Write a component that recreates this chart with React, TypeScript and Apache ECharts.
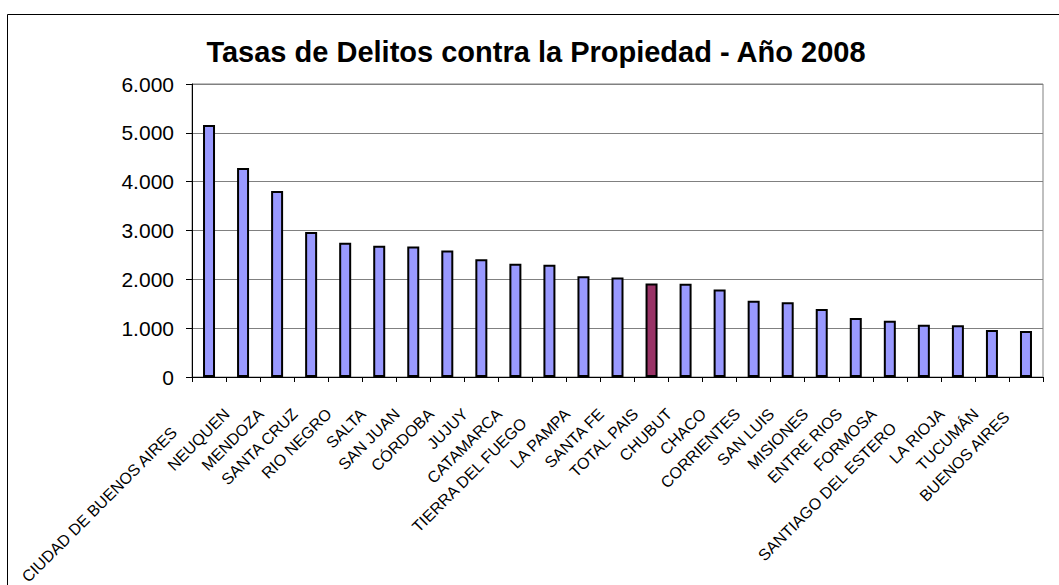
import React, { useEffect, useRef } from "react";
import * as echarts from "echarts";

const TITLE = "Tasas de Delitos contra la Propiedad - Año 2008";

const provinces: string[] = [
  "CIUDAD DE BUENOS AIRES",
  "NEUQUEN",
  "MENDOZA",
  "SANTA CRUZ",
  "RIO NEGRO",
  "SALTA",
  "SAN JUAN",
  "CÓRDOBA",
  "JUJUY",
  "CATAMARCA",
  "TIERRA DEL FUEGO",
  "LA PAMPA",
  "SANTA FE",
  "TOTAL PAIS",
  "CHUBUT",
  "CHACO",
  "CORRIENTES",
  "SAN LUIS",
  "MISIONES",
  "ENTRE RIOS",
  "FORMOSA",
  "SANTIAGO DEL ESTERO",
  "LA RIOJA",
  "TUCUMÁN",
  "BUENOS AIRES",
];

const rates: number[] = [
  5160, 4280, 3810, 2970, 2750, 2690, 2670, 2590, 2410, 2320, 2300, 2065,
  2040, 1915, 1910, 1790, 1560, 1530, 1390, 1210, 1150, 1070, 1060, 960, 940,
];

const highlight = "TOTAL PAIS";

const yTicks = { min: 0, max: 6000, interval: 1000 };

function fmt(v: number): string {
  return String(Math.round(v)).replace(/\B(?=(\d{3})+(?!\d))/g, ".");
}

export default function App() {
  const ref = useRef<HTMLDivElement>(null);

  useEffect(() => {
    if (!ref.current) return;
    const chart = echarts.init(ref.current, null, { renderer: "svg" });
    const font = "Arial, 'Liberation Sans', sans-serif";

    const catData = provinces.map((name) => {
      const extra = Math.max(0, name.length - 10) * 2.2;
      return {
        value: name,
        textStyle: { padding: [0, 23 + extra, 0, 0] },
      };
    });

    chart.setOption({
      animation: false,
      backgroundColor: "#ffffff",
      graphic: [
        {
          type: "rect",
          shape: { x: 7.5, y: 14.5, width: 1100, height: 620 },
          style: { fill: "none", stroke: "#000000", lineWidth: 1 },
          silent: true,
          z: -10,
        },
        {
          type: "text",
          x: 536,
          y: 52,
          style: {
            text: TITLE,
            font: `bold 29px ${font}`,
            fill: "#000000",
            align: "center",
            verticalAlign: "middle",
          },
        },
      ],
      grid: {
        left: 192,
        right: 16,
        top: 84,
        bottom: 208,
        containLabel: false,
        outerBoundsMode: "none",
        show: true,
        borderColor: "#808080",
        borderWidth: 1,
        backgroundColor: "#ffffff",
      },
      xAxis: {
        type: "category",
        data: catData,
        boundaryGap: true,
        axisLine: { show: true, lineStyle: { color: "#000000", width: 1 } },
        axisTick: {
          show: true,
          alignWithLabel: false,
          length: 5,
          lineStyle: { color: "#000000" },
        },
        axisLabel: {
          interval: 0,
          rotate: 45,
          margin: 18,
          color: "#000000",
          fontFamily: font,
          fontSize: 16,
        },
        splitLine: { show: false },
      },
      yAxis: {
        type: "value",
        min: yTicks.min,
        max: yTicks.max,
        interval: yTicks.interval,
        axisLine: { show: true, lineStyle: { color: "#000000", width: 1 } },
        axisTick: { show: true, length: 6, lineStyle: { color: "#000000" } },
        axisLabel: {
          margin: 18,
          color: "#000000",
          fontFamily: font,
          fontSize: 21,
          formatter: (v: number) => fmt(v),
        },
        splitLine: { show: true, lineStyle: { color: "#808080", width: 1 } },
      },
      series: [
        {
          type: "bar",
          data: rates.map((v, i) => ({
            value: v,
            itemStyle: {
              color: provinces[i] === highlight ? "#993366" : "#9999FF",
            },
          })),
          barWidth: 12,
          itemStyle: { borderColor: "#000000", borderWidth: 2 },
        },
      ],
    });

    return () => chart.dispose();
  }, []);

  return (
    <div
      ref={ref}
      style={{
        position: "fixed",
        left: 0,
        top: 0,
        width: 1059,
        height: 585,
        background: "#ffffff",
      }}
    />
  );
}
